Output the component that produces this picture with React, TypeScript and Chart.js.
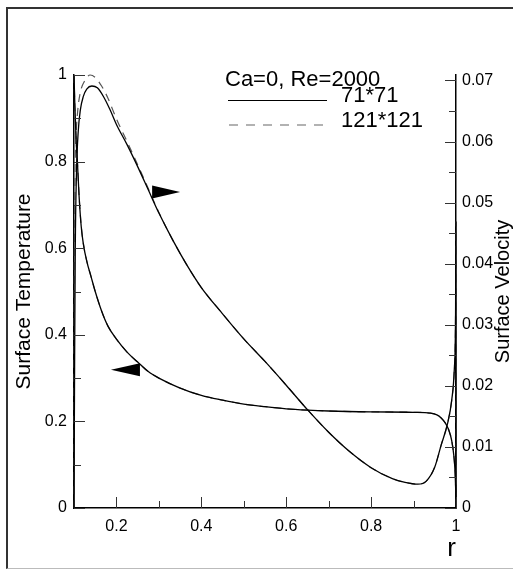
import React, { useEffect, useRef } from "react";
import { Chart, registerables } from "chart.js";

Chart.register(...registerables);

const FONT = "'Liberation Sans', Arial, Helvetica, sans-serif";

// Axis ticks
const xTicks = [0.2, 0.4, 0.6, 0.8, 1];
const xMinorTicks = [0.3, 0.5, 0.7, 0.9];
const tempTicks = [0, 0.2, 0.4, 0.6, 0.8, 1];
const tempMinorTicks = [0.1, 0.3, 0.5, 0.7, 0.9];
const velTicks = [0, 0.01, 0.02, 0.03, 0.04, 0.05, 0.06, 0.07];
const velMinorTicks = [0.005, 0.015, 0.025, 0.035, 0.045, 0.055, 0.065];
const xRange = [0.1, 1];
const tempRange = [0, 1];
const velRange = [0, 0.0709];

// Texts
const legendTitle = "Ca=0, Re=2000";
const gridNames = ["71*71", "121*121"];
const xTitle = "r";
const tempTitle = "Surface Temperature";
const velTitle = "Surface Velocity";

// Surface velocity, grid 71*71 (right axis)
const rVel71 = [0.1, 0.1015, 0.103, 0.106, 0.11, 0.115, 0.122, 0.13, 0.142, 0.155, 0.17, 0.185, 0.2, 0.225, 0.25, 0.275, 0.3, 0.334, 0.365, 0.4, 0.45, 0.5, 0.55, 0.6, 0.65, 0.7, 0.75, 0.8, 0.85, 0.88, 0.91, 0.93, 0.95, 0.965, 0.98, 0.99, 0.996, 0.999, 0.9998, 1.0];
const vel71 = [0, 0.0248, 0.0425, 0.0553, 0.0617, 0.0652, 0.0674, 0.0686, 0.0691, 0.0688, 0.0673, 0.0652, 0.0628, 0.0595, 0.0559, 0.0521, 0.0483, 0.0437, 0.0399, 0.0361, 0.0318, 0.0277, 0.024, 0.0201, 0.0161, 0.0124, 0.0092, 0.0066, 0.0048, 0.0042, 0.0039, 0.0044, 0.0067, 0.0103, 0.0138, 0.0177, 0.0227, 0.0319, 0.0468, 0];

// Surface temperature, grid 71*71 (left axis)
const rTemp71 = [0.1, 0.102, 0.105, 0.108, 0.112, 0.117, 0.122, 0.13, 0.14, 0.15, 0.165, 0.18, 0.2, 0.225, 0.25, 0.275, 0.3, 0.35, 0.4, 0.45, 0.5, 0.55, 0.6, 0.65, 0.7, 0.8, 0.9, 0.94, 0.955, 0.965, 0.975, 0.983, 0.99, 0.995, 0.998, 1.0];
const temp71 = [1.0, 0.93, 0.85, 0.8, 0.72, 0.65, 0.61, 0.57, 0.535, 0.5, 0.455, 0.42, 0.39, 0.36, 0.337, 0.315, 0.3, 0.277, 0.26, 0.249, 0.24, 0.234, 0.229, 0.226, 0.224, 0.222, 0.221, 0.219, 0.215, 0.208, 0.196, 0.18, 0.155, 0.12, 0.08, 0.02];

// Surface velocity, grid 121*121 (right axis)
const rVel121 = [0.1, 0.1004, 0.1009, 0.102, 0.105, 0.109, 0.115, 0.125, 0.138, 0.15, 0.165, 0.18, 0.2, 0.225, 0.25, 0.275, 0.3, 0.334, 0.365, 0.4, 0.45, 0.5, 0.55, 0.6, 0.65, 0.7, 0.75, 0.8, 0.85, 0.88, 0.91, 0.93, 0.95, 0.965, 0.98, 0.99, 0.996, 0.999, 0.9998, 1.0];
const vel121 = [0, 0.0213, 0.039, 0.0525, 0.061, 0.0652, 0.0681, 0.0699, 0.0709, 0.0705, 0.0691, 0.0671, 0.0637, 0.06, 0.0562, 0.0523, 0.0484, 0.0437, 0.0399, 0.0361, 0.0318, 0.0277, 0.024, 0.0201, 0.0161, 0.0124, 0.0092, 0.0066, 0.0048, 0.0042, 0.0039, 0.0044, 0.0067, 0.0103, 0.0138, 0.0177, 0.0227, 0.0319, 0.0468, 0];

// Surface temperature, grid 121*121 (left axis)
const rTemp121 = [0.1, 0.102, 0.105, 0.108, 0.112, 0.117, 0.122, 0.13, 0.14, 0.15, 0.165, 0.18, 0.2, 0.225, 0.25, 0.275, 0.3, 0.35, 0.4, 0.45, 0.5, 0.55, 0.6, 0.65, 0.7, 0.8, 0.9, 0.94, 0.955, 0.965, 0.975, 0.983, 0.99, 0.995, 0.998, 1.0];
const temp121 = [1.0, 0.93, 0.852, 0.8, 0.722, 0.652, 0.611, 0.571, 0.535, 0.5, 0.455, 0.42, 0.39, 0.36, 0.337, 0.315, 0.3, 0.277, 0.26, 0.249, 0.24, 0.234, 0.229, 0.226, 0.224, 0.222, 0.221, 0.219, 0.215, 0.208, 0.196, 0.18, 0.155, 0.12, 0.08, 0.02];

// Direction arrows (tip location in data units)
const velArrowTip = { r: 0.35, v: 0.73 };
const tempArrowTip = { r: 0.187, v: 0.319 };

const pts = (xs: number[], ys: number[]) => xs.map((x, i) => ({ x, y: ys[i] }));

const decorPlugin = {
  id: "decor",
  afterDraw(chart: any) {
    const { ctx, chartArea: ca, scales } = chart;
    const sx = scales.x;
    const sy = scales.y;
    const sy1 = scales.y1;
    ctx.save();
    // inward ticks
    ctx.strokeStyle = "#333";
    ctx.lineWidth = 1;
    const line = (x1: number, y1: number, x2: number, y2: number) => {
      ctx.beginPath();
      ctx.moveTo(x1, y1);
      ctx.lineTo(x2, y2);
      ctx.stroke();
    };
    const MAJ = 11;
    const MIN = 7;
    tempTicks.forEach((v) => {
      const p = Math.round(sy.getPixelForValue(v)) + 0.5;
      line(ca.left, p, ca.left + MAJ, p);
    });
    tempMinorTicks.forEach((v) => {
      const p = Math.round(sy.getPixelForValue(v)) + 0.5;
      line(ca.left, p, ca.left + MIN, p);
    });
    velTicks.forEach((v) => {
      const p = Math.round(sy1.getPixelForValue(v)) + 0.5;
      line(ca.right, p, ca.right - MAJ, p);
    });
    velMinorTicks.forEach((v) => {
      const p = Math.round(sy1.getPixelForValue(v)) + 0.5;
      line(ca.right, p, ca.right - MIN, p);
    });
    xTicks.forEach((v) => {
      const p = Math.round(sx.getPixelForValue(v)) + 0.5;
      line(p, ca.bottom, p, ca.bottom - MAJ);
    });
    xMinorTicks.forEach((v) => {
      const p = Math.round(sx.getPixelForValue(v)) + 0.5;
      line(p, ca.bottom, p, ca.bottom - MIN);
    });

    // arrows
    ctx.fillStyle = "#000";
    const ax = sx.getPixelForValue(velArrowTip.r);
    const ay = sy.getPixelForValue(velArrowTip.v);
    ctx.beginPath();
    ctx.moveTo(ax, ay);
    ctx.lineTo(ax - 28, ay - 6.5);
    ctx.lineTo(ax - 28, ay + 6.5);
    ctx.closePath();
    ctx.fill();
    const bx = sx.getPixelForValue(tempArrowTip.r);
    const by = sy.getPixelForValue(tempArrowTip.v);
    ctx.beginPath();
    ctx.moveTo(bx, by);
    ctx.lineTo(bx + 29, by - 6.5);
    ctx.lineTo(bx + 29, by + 6.5);
    ctx.closePath();
    ctx.fill();

    // legend
    ctx.fillStyle = "#000";
    ctx.font = `22px ${FONT}`;
    ctx.textAlign = "left";
    ctx.textBaseline = "alphabetic";
    ctx.fillText(legendTitle, 225, 85.5);
    ctx.fillText(gridNames[0], 341, 101.5);
    ctx.fillText(gridNames[1], 341, 126.5);
    ctx.strokeStyle = "#000";
    ctx.lineWidth = 1.2;
    line(228, 100.5, 327, 100.5);
    ctx.strokeStyle = "#666";
    ctx.setLineDash([9, 8]);
    line(229, 125, 329, 125);
    ctx.setLineDash([]);

    // right axis title (reads bottom to top)
    ctx.save();
    ctx.translate(ca.right + 47.5, (ca.top + ca.bottom) / 2);
    ctx.rotate(-Math.PI / 2);
    ctx.font = `20px ${FONT}`;
    ctx.textAlign = "center";
    ctx.textBaseline = "middle";
    ctx.fillText(velTitle, 0, 0);
    ctx.restore();

    ctx.restore();
  },
};

export default function App() {
  const ref = useRef<HTMLCanvasElement | null>(null);
  useEffect(() => {
    if (!ref.current) return;
    const common = {
      pointRadius: 0,
      cubicInterpolationMode: "monotone" as const,
      clip: false as const,
      fill: false,
    };
    const chart = new Chart(ref.current, {
      type: "line",
      data: {
        datasets: [
          { ...common, label: gridNames[0] + " velocity", data: pts(rVel71, vel71), yAxisID: "y1", borderColor: "#000", borderWidth: 1.3 },
          { ...common, label: gridNames[0] + " temperature", data: pts(rTemp71, temp71), yAxisID: "y", borderColor: "#000", borderWidth: 1.3 },
          { ...common, label: gridNames[1] + " velocity", data: pts(rVel121, vel121), yAxisID: "y1", borderColor: "#555", borderWidth: 1.2, borderDash: [8, 6] },
          { ...common, label: gridNames[1] + " temperature", data: pts(rTemp121, temp121), yAxisID: "y", borderColor: "#555", borderWidth: 1.2, borderDash: [8, 6] },
        ],
      },
      options: {
        responsive: false,
        maintainAspectRatio: false,
        animation: false,
        devicePixelRatio: 1,
        layout: { padding: { top: 75, left: 0, right: 0, bottom: 0 } },
        plugins: { legend: { display: false }, tooltip: { enabled: false } },
        scales: {
          x: {
            type: "linear",
            position: "bottom",
            min: xRange[0],
            max: xRange[1],
            afterBuildTicks: (s: any) => {
              s.ticks = xTicks.map((v) => ({ value: v }));
            },
            afterFit: (s: any) => {
              s.height = 62;
            },
            grid: { display: false, drawTicks: false },
            border: { display: true, color: "#000", width: 1.5 },
            ticks: {
              color: "#000",
              font: { family: FONT, size: 16 },
              padding: 9,
              maxRotation: 0,
              autoSkip: false,
              callback: (v: any) => String(v),
            },
            title: {
              display: true,
              text: xTitle,
              align: "end",
              color: "#000",
              font: { family: FONT, size: 26 },
              padding: { top: 0, bottom: 6 },
            },
          },
          y: {
            type: "linear",
            position: "left",
            min: tempRange[0],
            max: tempRange[1],
            afterBuildTicks: (s: any) => {
              s.ticks = tempTicks.map((v) => ({ value: v }));
            },
            afterFit: (s: any) => {
              s.width = 74;
            },
            grid: { display: false, drawTicks: false },
            border: { display: true, color: "#000", width: 1.5 },
            ticks: {
              color: "#000",
              font: { family: FONT, size: 16 },
              padding: 7,
              callback: (v: any) => String(v),
            },
            title: {
              display: true,
              text: tempTitle,
              color: "#000",
              font: { family: FONT, size: 21 },
              padding: { top: 12, bottom: 0 },
            },
          },
          y1: {
            type: "linear",
            position: "right",
            min: velRange[0],
            max: velRange[1],
            afterBuildTicks: (s: any) => {
              s.ticks = velTicks.map((v) => ({ value: v }));
            },
            afterFit: (s: any) => {
              s.width = 57;
            },
            grid: { display: false, drawTicks: false },
            border: { display: true, color: "#000", width: 1.5 },
            ticks: {
              color: "#000",
              font: { family: FONT, size: 16 },
              padding: 6,
              callback: (v: any) => String(v),
            },
          },
        },
      },
      plugins: [decorPlugin],
    });
    return () => chart.destroy();
  }, []);

  return (
    <div style={{ position: "absolute", left: 0, top: 0, width: 513, height: 570, background: "#fff" }}>
      <div
        style={{
          position: "absolute",
          left: 6,
          top: 7,
          width: 507,
          height: 562,
          boxSizing: "border-box",
          borderTop: "2px solid #333",
          borderLeft: "2px solid #333",
          borderBottom: "1px solid #bbb",
        }}
      />
      <canvas ref={ref} width={513} height={570} style={{ position: "absolute", left: 0, top: 0, width: 513, height: 570 }} />
    </div>
  );
}
